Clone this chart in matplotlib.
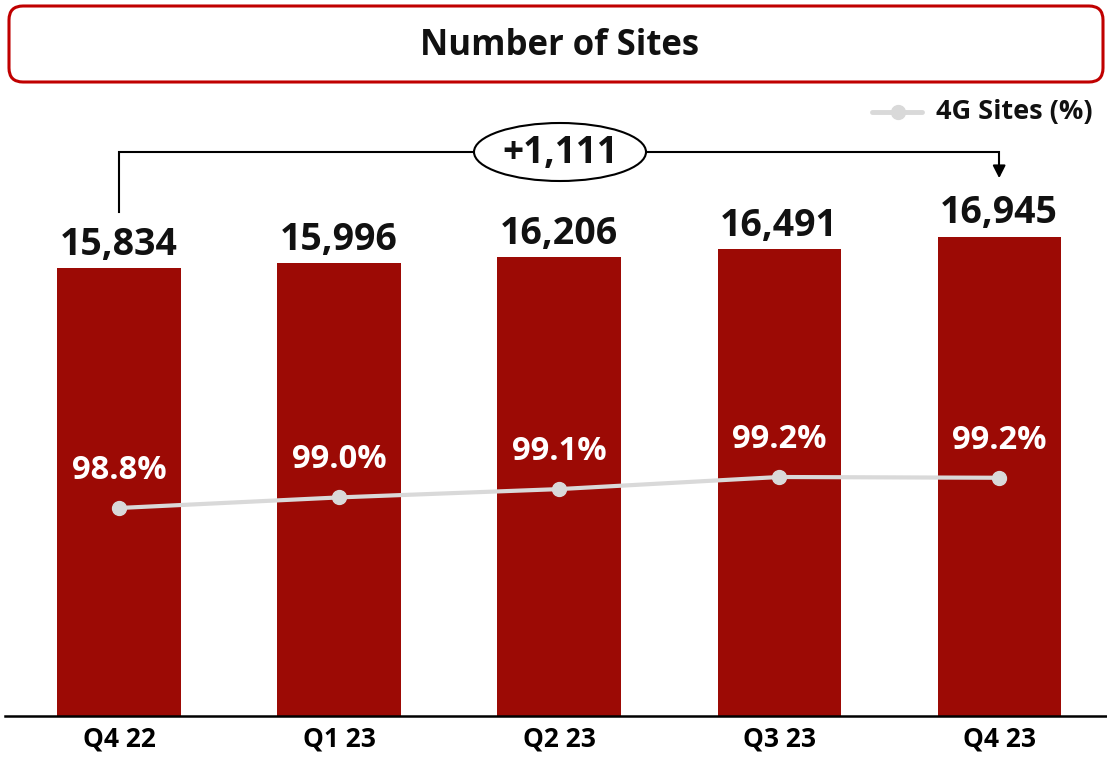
import matplotlib
matplotlib.use("Agg")
import matplotlib.pyplot as plt
from matplotlib.patches import FancyBboxPatch, Ellipse
import numpy as np

categories = ["Q4 22", "Q1 23", "Q2 23", "Q3 23", "Q4 23"]
sites = [15834, 15996, 16206, 16491, 16945]
pct_4g = [98.82, 98.96, 99.07, 99.23, 99.22]
title = "Number of Sites"
legend_label = "4G Sites (%)"
change_label = "+1,111"

BAR = "#9C0A05"
LINE = "#D9D9D9"
FONT = "Open Sans"

plt.rcParams['font.family'] = [FONT, 'DejaVu Sans']

W, H = 1107, 758
fig = plt.figure(figsize=(W / 100, H / 100), dpi=100)

# main axes: baseline at y=716 px from top, top at 90 px
ax_bottom = (H - 716) / H
ax_top = (H - 90) / H
ax = fig.add_axes([5 / W, ax_bottom, (W - 5) / W, ax_top - ax_bottom])
x = np.arange(len(categories))
ax.bar(x, sites, width=0.56, color=BAR, zorder=2)
ax.set_xlim(-0.518, 4.49)
px_per_unit = 448 / 15834
ax.set_ylim(0, 626 / px_per_unit)
for s in ["top", "right", "left"]:
    ax.spines[s].set_visible(False)
ax.spines["bottom"].set_color("black")
ax.spines["bottom"].set_linewidth(1.8)
ax.set_yticks([])
ax.set_xticks(x)
ax.set_xticklabels(categories, fontsize=19, fontweight="bold")
ax.tick_params(axis="x", length=0, pad=7)

for xi, v in zip(x, sites):
    ax.annotate(f"{v:,}", (xi, v), xytext=(0, 3), textcoords="offset points",
                ha="center", va="bottom", fontsize=27, fontweight="bold", color="#111111")

# secondary axis for 4G %
ax2 = ax.twinx()
ax2.set_xlim(ax.get_xlim())
pxp = 75.6
lo = 98.82 - 208 / pxp
ax2.set_ylim(lo, lo + 626 / pxp)
ax2.plot(x, pct_4g, color=LINE, lw=3, marker="o", ms=10, zorder=3)
ax2.axis("off")
for xi, v in zip(x, pct_4g):
    ax2.annotate(f"{v:.1f}%", (xi, v), xytext=(0, 27), textcoords="offset points",
                 ha="center", va="center", fontsize=23.5, fontweight="bold", color="white")

# bracket annotation
y_left = 17815
y_top = 19936
y_tip = 18911
ax.plot([x[0], x[0], x[-1], x[-1]], [y_left, y_top, y_top, y_tip + 500],
        color="black", lw=1.5, clip_on=False, zorder=5, solid_joinstyle="miter")
ax.annotate("", xy=(x[-1], y_tip), xytext=(x[-1], y_tip + 600),
            arrowprops=dict(arrowstyle="-|>,head_length=0.75,head_width=0.38", color="black", lw=1.5),
            annotation_clip=False, zorder=5)

# overlay in pixel coordinates
ov = fig.add_axes([0, 0, 1, 1], zorder=10)
ov.set_xlim(0, W)
ov.set_ylim(H, 0)
ov.axis("off")
ov.patch.set_alpha(0)

box = FancyBboxPatch((9, 6), 1094, 76, boxstyle="round,pad=0,rounding_size=14",
                     fc="white", ec="#C00000", lw=2.2)
ov.add_patch(box)
ov.text(560, 46, title, ha="center", va="center", fontsize=25, fontweight="bold", color="#111111")

ell = Ellipse((560, 152), 172, 58, fc="white", ec="black", lw=1.5)
ov.add_patch(ell)
ov.text(560, 153, change_label, ha="center", va="center", fontsize=26.5, fontweight="bold", color="#111111")

# legend
ov.plot([872, 922], [112, 112], color=LINE, lw=3.5, solid_capstyle="round")
ov.plot([898], [112], "o", color=LINE, ms=10)
ov.text(936, 112, legend_label, ha="left", va="center", fontsize=19.5, fontweight="bold", color="#111111")

fig.savefig("out.png", dpi=100)
